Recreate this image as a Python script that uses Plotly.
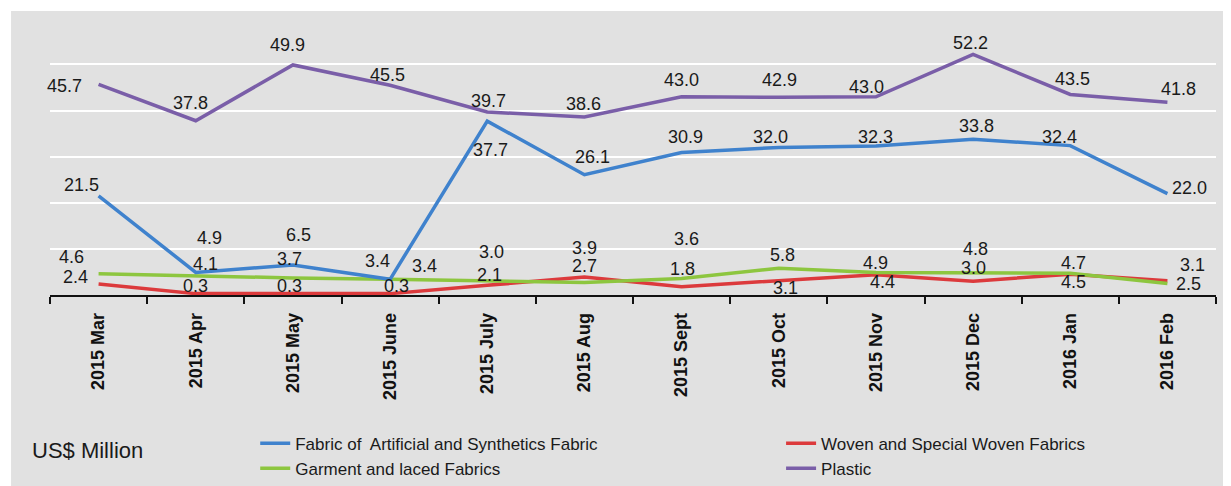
import plotly.graph_objects as go

months = ["2015 Mar", "2015 Apr", "2015 May", "2015 June", "2015 July", "2015 Aug",
          "2015 Sept", "2015 Oct", "2015 Nov", "2015 Dec", "2016 Jan", "2016 Feb"]

fabric_artificial = [21.5, 4.9, 6.5, 3.4, 37.7, 26.1, 30.9, 32.0, 32.3, 33.8, 32.4, 22.0]
woven_special = [2.4, 0.3, 0.3, 0.3, 2.1, 3.9, 1.8, 3.1, 4.4, 3.0, 4.5, 3.1]
garment_laced = [4.6, 4.1, 3.7, 3.4, 3.0, 2.7, 3.6, 5.8, 4.9, 4.8, 4.7, 2.5]
plastic = [45.7, 37.8, 49.9, 45.5, 39.7, 38.6, 43.0, 42.9, 43.0, 52.2, 43.5, 41.8]

grid_values = [10, 20, 30, 40, 50]

# label offsets in pixels (dx right, dy down) relative to each point
off_fabric = [(-17, -11), (14, -34), (6, -30), (-13, -18), (3, 29), (8, -18),
              (4, -16), (-8, -10), (0, -9), (3, -13), (-11, -9), (22, -6)]
off_woven = [(-23, -7), (0, -8), (-3, -8), (6, -8), (2, -10), (0, -29),
             (1, -18), (7, 7), (7, 7), (0, -13), (3, 8), (25, -16)]
off_garment = [(-27, -17), (10, -12), (-3, -19), (34, -13), (4, -29), (0, -17),
               (5, -39), (4, -13), (0, -9), (2, -24), (3, -10), (21, 1)]
off_plastic = [(-34, 2), (-5, -18), (-5, -20), (-3, -10), (1, -11), (-1, -13),
               (0, -17), (1, -17), (-9, -10), (-3, -11), (2, -15), (11, -13)]

# (name, values, colour, label offsets, legend id, legend rank)
series = [
    ("Fabric of  Artificial and Synthetics Fabric", fabric_artificial, "#3f82cd", off_fabric, "legend", 1),
    ("Woven and Special Woven Fabrics", woven_special, "#dc3a3c", off_woven, "legend2", 1),
    ("Garment and laced Fabrics", garment_laced, "#8dc63f", off_garment, "legend", 2),
    ("Plastic", plastic, "#7a5ea8", off_plastic, "legend2", 2),
]

draw_order = [1, 2, 0, 3]

fig = go.Figure()
for idx in draw_order:
    name, vals, color, offs, leg, rank = series[idx]
    fig.add_trace(go.Scatter(
        x=months, y=vals, mode="lines", name=name, legend=leg, legendrank=rank,
        line=dict(color=color, width=3.5),
        hoverinfo="skip",
    ))

annotations = []
for name, vals, color, offs, leg, rank in series:
    for m, v, (dx, dy) in zip(months, vals, offs):
        annotations.append(dict(
            x=m, y=v, xref="x", yref="y", text=f"{v:.1f}", showarrow=False,
            xshift=dx, yshift=-dy,
            font=dict(family="Liberation Sans, Arial, sans-serif", size=18, color="#1a1a1a"),
        ))

annotations.append(dict(
    x=-0.0172, y=-0.546, xref="paper", yref="paper", text="US$ Million",
    showarrow=False, xanchor="left", yanchor="middle",
    font=dict(family="Liberation Sans, Arial, sans-serif", size=22, color="#1a1a1a"),
))

legend_font = dict(family="Liberation Sans Narrow, Arial Narrow, sans-serif", size=17, color="#1a1a1a")

fig.update_layout(
    width=1231, height=486,
    margin=dict(l=42, r=23, t=3, b=199, autoexpand=False),
    paper_bgcolor="white",
    plot_bgcolor="rgba(0,0,0,0)",
    showlegend=True,
    legend=dict(
        orientation="v", x=0.176, xanchor="left", y=-0.46, yanchor="top",
        bgcolor="rgba(0,0,0,0)", font=legend_font, tracegroupgap=0,
    ),
    legend2=dict(
        orientation="v", x=0.627, xanchor="left", y=-0.46, yanchor="top",
        bgcolor="rgba(0,0,0,0)", font=legend_font, tracegroupgap=0,
    ),
    annotations=annotations,
    shapes=[dict(
        type="rect", xref="paper", yref="paper", x0=-0.0334, x1=1.0103, y0=-0.75, y1=1.0,
        fillcolor="#e1e1e1", line=dict(width=0), layer="below",
    )],
    xaxis=dict(
        type="category", tickson="boundaries", ticks="outside", ticklen=7,
        tickcolor="#111111", tickwidth=1.5,
        showline=True, linecolor="#111111", linewidth=1.5,
        showgrid=False, tickangle=-90, automargin=False, ticklabelstandoff=9,
        tickfont=dict(family="Liberation Sans Narrow, Arial Narrow, sans-serif", size=18, color="#111111", weight="bold"),
        range=[-0.5, 11.5],
    ),
    yaxis=dict(
        range=[0, 61.6], tickmode="array", tickvals=grid_values, showgrid=True,
        gridcolor="white", gridwidth=2, automargin=False,
        showticklabels=False, zeroline=False, showline=False, ticks="",
    ),
)

fig.write_html("out.html")
